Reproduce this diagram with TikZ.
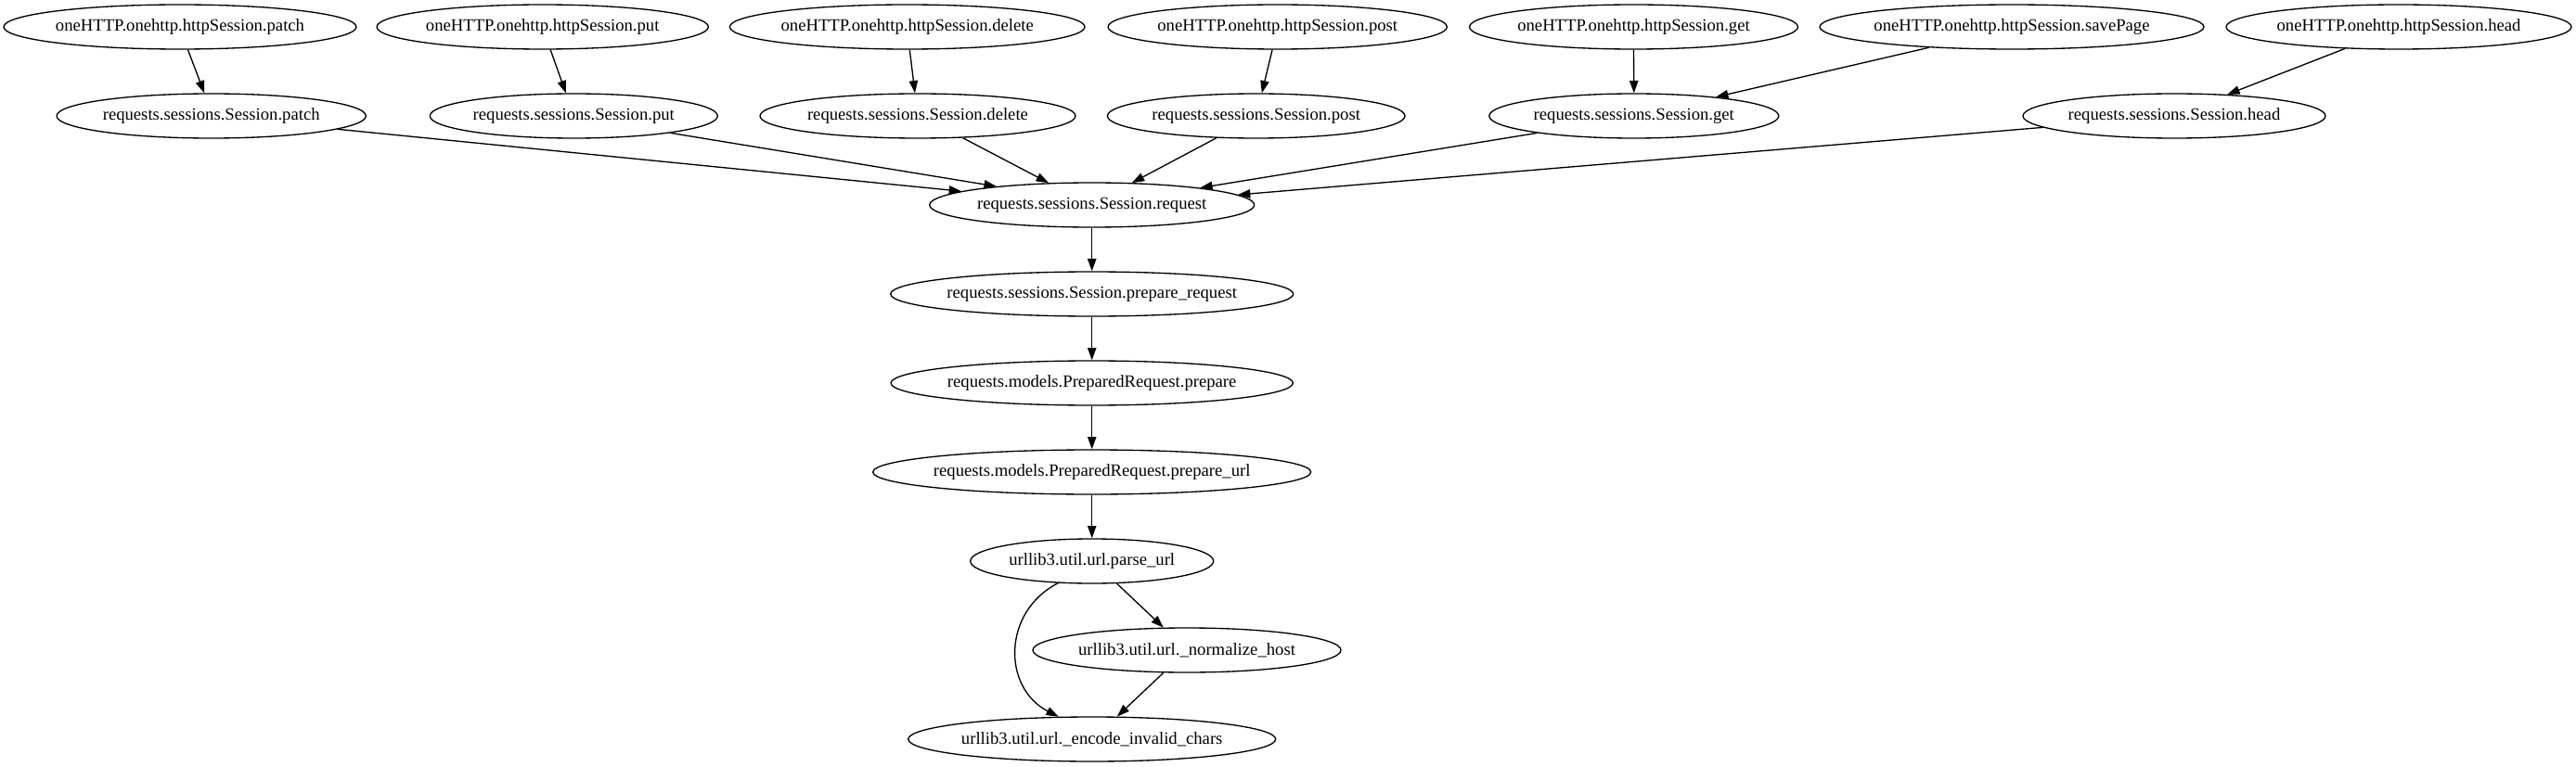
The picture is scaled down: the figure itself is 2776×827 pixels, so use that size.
\documentclass[tikz,border=0pt]{standalone}
\usepackage{fontspec}
\setmainfont{Liberation Serif}
\usetikzlibrary{arrows.meta,shapes.geometric}
\tikzset{
  gnode/.style={draw, ellipse, inner sep=0pt, minimum height=36pt, line width=1pt,
    font=\fontsize{14pt}{17pt}\selectfont},
  gedge/.style={-{Triangle[length=10pt,width=7pt]}, line width=1pt}
}
\newcommand{\lbl}[1]{\makebox[0pt]{#1}}
\begin{document}
\begin{tikzpicture}[x=0.75pt,y=-0.75pt]
\useasboundingbox (0,0) rectangle (2776,827);
% top row
\node[gnode, minimum width=285pt]   (tpatch)  at (194,29)    {\lbl{oneHTTP.onehttp.httpSession.patch}};
\node[gnode, minimum width=268pt]   (tput)    at (584.7,29)  {\lbl{oneHTTP.onehttp.httpSession.put}};
\node[gnode, minimum width=287pt]   (tdelete) at (977.7,29)  {\lbl{oneHTTP.onehttp.httpSession.delete}};
\node[gnode, minimum width=274pt]   (tpost)   at (1376.7,29) {\lbl{oneHTTP.onehttp.httpSession.post}};
\node[gnode, minimum width=265.5pt] (tget)    at (1760.5,29) {\lbl{oneHTTP.onehttp.httpSession.get}};
\node[gnode, minimum width=310.5pt] (tsave)   at (2168,29)   {\lbl{oneHTTP.onehttp.httpSession.savePage}};
\node[gnode, minimum width=279pt]   (thead)   at (2585,29)   {\lbl{oneHTTP.onehttp.httpSession.head}};
% second row
\node[gnode, minimum width=250pt]   (spatch)  at (227.7,125)  {\lbl{requests.sessions.Session.patch}};
\node[gnode, minimum width=232.5pt] (sput)    at (618.3,125)  {\lbl{requests.sessions.Session.put}};
\node[gnode, minimum width=255pt]   (sdelete) at (989,125)    {\lbl{requests.sessions.Session.delete}};
\node[gnode, minimum width=240.5pt] (spost)   at (1353.7,125) {\lbl{requests.sessions.Session.post}};
\node[gnode, minimum width=234pt]   (sget)    at (1760.8,125) {\lbl{requests.sessions.Session.get}};
\node[gnode, minimum width=244.5pt] (shead)   at (2343,125)   {\lbl{requests.sessions.Session.head}};
% chain
\node[gnode, minimum width=262.5pt] (request) at (1176.7,221) {\lbl{requests.sessions.Session.request}};
\node[gnode, minimum width=325.5pt] (prepreq) at (1176.7,317) {\lbl{requests.sessions.Session.prepare\_request}};
\node[gnode, minimum width=325pt]   (prepare) at (1176.7,413) {\lbl{requests.models.PreparedRequest.prepare}};
\node[gnode, minimum width=354pt]   (prepurl) at (1176.7,509) {\lbl{requests.models.PreparedRequest.prepare\_url}};
\node[gnode, minimum width=196.5pt] (parse)   at (1176.7,605) {\lbl{urllib3.util.url.parse\_url}};
\node[gnode, minimum width=249pt]   (norm)    at (1279,701)   {\lbl{urllib3.util.url.\_normalize\_host}};
\node[gnode, minimum width=297pt]   (encode)  at (1176.7,797) {\lbl{urllib3.util.url.\_encode\_invalid\_chars}};
% top -> second
\draw[gedge] (tpatch.-71.3)  -- (spatch.107.8);
\draw[gedge] (tput.-71.9)    -- (sput.109);
\draw[gedge] (tdelete.-84)   -- (sdelete.97);
\draw[gedge] (tpost.-103)    -- (spost.76.9);
\draw[gedge] (tget.south)    -- (sget.north);
\draw[gedge] (tsave.194.1)   -- (sget.13.6);
\draw[gedge] (thead.202.6)   -- (shead.22.5);
% second -> request
\draw[gedge] (spatch.-6.57)  -- (request.174.3);
\draw[gedge] (sput.-10.2)    -- (request.169.6);
\draw[gedge] (sdelete.-26.1) -- (request.153.1);
\draw[gedge] (spost.209)     -- (request.29.3);
\draw[gedge] (sget.190)      -- (request.9.4);
\draw[gedge] (shead.185.4)   -- (request.4.6);
% chain
\draw[gedge] (request.south) -- (prepreq.north);
\draw[gedge] (prepreq.south) -- (prepare.north);
\draw[gedge] (prepare.south) -- (prepurl.north);
\draw[gedge] (prepurl.south) -- (parse.north);
\draw[gedge] (parse.-42.7)   -- (norm.136.2);
\draw[gedge] (norm.224)      -- (encode.42.7);
\draw[gedge] (parse.213.3) .. controls +(-60.5,31) and +(-60.5,-31) .. (encode.146.7);
\end{tikzpicture}
\end{document}
